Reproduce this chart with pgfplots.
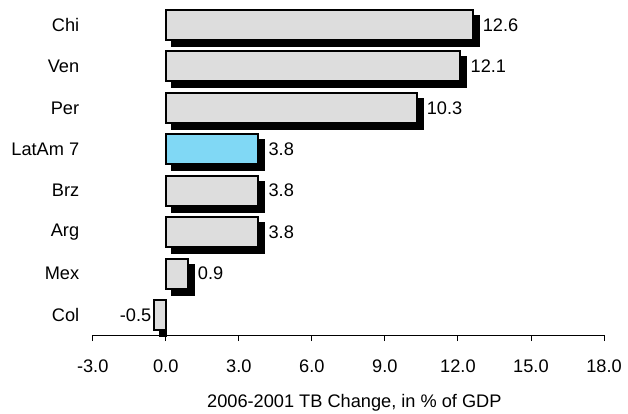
\documentclass[border=0pt]{standalone}
\usepackage{pgfplots}
\pgfplotsset{compat=1.18}
\usepackage{fontspec}
\setmainfont{Liberation Sans}

\definecolor{barfill}{HTML}{DDDDDD}
\definecolor{latamfill}{HTML}{80D8F5}

\newcommand{\chartfont}{\fontsize{18.2bp}{22bp}\selectfont}

\begin{document}
\begin{tikzpicture}[font=\chartfont]
\path[use as bounding box] (0,0) rectangle (628bp,414bp);
\begin{axis}[
  at={(92.7bp,79bp)}, anchor=south west,
  scale only axis,
  width=511.3bp, height=335bp,
  xmin=-3, xmax=18, ymin=-0.483, ymax=7.603,
  axis x line*=bottom,
  axis y line*=left,
  y axis line style={draw=none},
  x axis line style={line width=0.9bp, -},
  xtick={-3,0,3,6,9,12,15,18},
  xtick align=outside,
  major tick length=6bp,
  xtick style={line width=0.9bp, black},
  ytick={0,1,2,3,4,5,6,7},
  yticklabels={Col,Mex,Arg,Brz,LatAm 7,Per,Ven,Chi},
  ytick style={draw=none},
  yticklabel style={font=\chartfont, xshift=-4bp},
  xticklabel style={font=\chartfont, yshift=-15bp},
  /pgf/number format/assume math mode=true,
  xticklabel={\pgfmathprintnumber[fixed,fixed zerofill,precision=1]{\tick}},
  xlabel={2006-2001 TB Change, in \% of GDP},
  xlabel style={font=\chartfont, at={(axis description cs:0.5,0)}, anchor=center, yshift=-68bp, xshift=6bp},
  xbar, bar width=30bp, bar shift=0pt,
  clip=false,
]
% drop shadows
\addplot[fill=black, draw=black, line width=2bp, xshift=6bp, yshift=-6bp, forget plot]
  coordinates {(12.6,7) (12.1,6) (10.3,5) (3.8,4) (3.8,3) (3.8,2) (0.9,1)};
% the shadow of the negative bar stops at the zero line
\addplot[fill=black, draw=black, line width=2bp, yshift=-6bp, forget plot]
  coordinates {(-0.25,0)};
% positive changes
\addplot[fill=barfill, draw=black, line width=2bp,
  nodes near coords, point meta=x,
  nodes near coords style={font=\chartfont, anchor=west, xshift=6bp, black,
    /pgf/number format/.cd, fixed, fixed zerofill, precision=1}]
  coordinates {(12.6,7) (12.1,6) (10.3,5) (3.8,3) (3.8,2) (0.9,1)};
% regional average
\addplot[fill=latamfill, draw=black, line width=2bp,
  nodes near coords, point meta=x,
  nodes near coords style={font=\chartfont, anchor=west, xshift=6bp, black,
    /pgf/number format/.cd, fixed, fixed zerofill, precision=1}]
  coordinates {(3.8,4)};
% negative change
\addplot[fill=barfill, draw=black, line width=2bp,
  nodes near coords, point meta=x,
  nodes near coords style={font=\chartfont, anchor=east, xshift=2bp, black,
    /pgf/number format/.cd, fixed, fixed zerofill, precision=1}]
  coordinates {(-0.5,0)};
\end{axis}
\end{tikzpicture}
\end{document}
